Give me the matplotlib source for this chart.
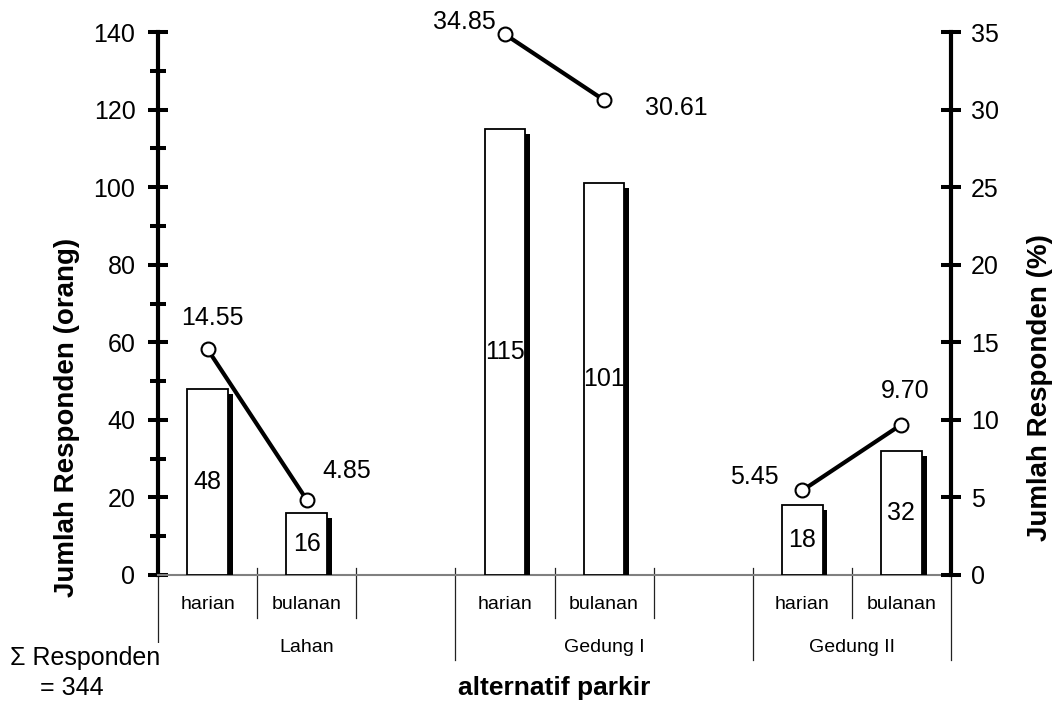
import matplotlib
matplotlib.use('Agg')
import matplotlib.pyplot as plt
import matplotlib.patheffects as pe

plt.rcParams['font.family'] = ['Liberation Sans', 'DejaVu Sans']

# data
grup = ['Lahan', 'Gedung I', 'Gedung II']
jenis = ['harian', 'bulanan']
slot_grup = [3, 3, 2]  # jumlah kategori per grup (termasuk kategori kosong)
jumlah = [[48, 16], [115, 101], [18, 32]]  # orang
persen = [[14.55, 4.85], [34.85, 30.61], [5.45, 9.70]]  # %
total = 344

# posisi label persen (pixel) relatif terhadap titik
off_persen = [[(5, 31), (40, 29)], [(-41, 12), (72, -8)], [(-48, 13), (4, 34)]]

W, H = 1053, 704
fig = plt.figure(figsize=(W / 100, H / 100), dpi=100)
ax = fig.add_axes([158 / W, 1 - 575 / H, (951 - 158) / W, 543 / H])
ax2 = ax.twinx()

n_slot = sum(slot_grup)
ax.set_xlim(0, n_slot)
ax.set_ylim(0, 140)
ax2.set_ylim(0, 35)

shadow = [pe.SimplePatchShadow(offset=(3.5, -3.5), shadow_rgbFace='black', alpha=1), pe.Normal()]

awal = [sum(slot_grup[:i]) for i in range(len(grup))]
for g in range(len(grup)):
    xs = [awal[g] + j + 0.5 for j in range(len(jenis))]
    ax.bar(xs, jumlah[g], width=0.41, color='white', edgecolor='black',
           linewidth=1.3, path_effects=shadow, zorder=3)
    for x, v in zip(xs, jumlah[g]):
        ax.text(x, v / 2, str(v), ha='center', va='center', fontsize=18, zorder=4)
    ax2.plot(xs, persen[g], color='black', lw=3, marker='o', ms=10,
             mfc='white', mec='black', mew=1.5, zorder=5, clip_on=False)
    for x, p, o in zip(xs, persen[g], off_persen[g]):
        ax2.annotate('{:.2f}'.format(p), (x, p), xytext=o, textcoords='offset pixels',
                     ha='center', va='center', fontsize=18)

# sumbu kiri
ax.set_yticks(range(0, 141, 20))
ax.set_yticks(range(0, 141, 10), minor=True)
ax.tick_params(axis='y', which='major', direction='inout', length=14.5, width=2.9,
               labelsize=18, pad=9)
ax.tick_params(axis='y', which='minor', direction='inout', length=12, width=2.9)
ax.tick_params(axis='x', which='both', bottom=False, labelbottom=False)
ax.spines['left'].set_linewidth(3)
ax.spines['bottom'].set_color('#808080')
ax.spines['bottom'].set_linewidth(1.5)
ax.spines['top'].set_visible(False)
ax.spines['right'].set_visible(False)

# sumbu kanan
ax2.set_yticks(range(0, 36, 5))
ax2.tick_params(axis='y', direction='inout', length=15, width=2.9, labelsize=18, pad=7)
for s in ['left', 'top', 'bottom']:
    ax2.spines[s].set_visible(False)
ax2.spines['right'].set_linewidth(3)

# label kategori bertingkat
tr = ax.get_xaxis_transform()
batas_grup = awal + [n_slot]
for b in range(n_slot + 1):
    y_end = -0.1565 if b in batas_grup else -0.0792
    ax.plot([b, b], [0.0129, y_end], transform=tr, color='#222222', lw=0.9,
            clip_on=False, zorder=1)
for g in range(len(grup)):
    for j, nama in enumerate(jenis):
        ax.text(awal[g] + j + 0.5, -0.0552, nama, transform=tr, ha='center',
                va='center', fontsize=14)
    ax.text(awal[g] + slot_grup[g] / 2, -0.1326, grup[g], transform=tr,
            ha='center', va='center', fontsize=14)

fig.text(67 / W, 1 - 417 / H, 'Jumlah Responden (orang)', rotation=90,
         ha='center', va='center', fontsize=20, fontweight='bold')
fig.text(1040 / W, 1 - 388 / H, 'Jumlah Responden (%)', rotation=90,
         ha='center', va='center', fontsize=20, fontweight='bold')
fig.text(554 / W, 1 - 688 / H, 'alternatif parkir', ha='center', va='center',
         fontsize=19, fontweight='bold')
fig.text(10 / W, 1 - 658 / H, '\u03a3 Responden', ha='left', va='center', fontsize=18,
         bbox=dict(facecolor='white', edgecolor='none', pad=2))
fig.text(40 / W, 1 - 688 / H, '= {}'.format(total), ha='left', va='center', fontsize=18)

fig.savefig('out.png', dpi=100)
